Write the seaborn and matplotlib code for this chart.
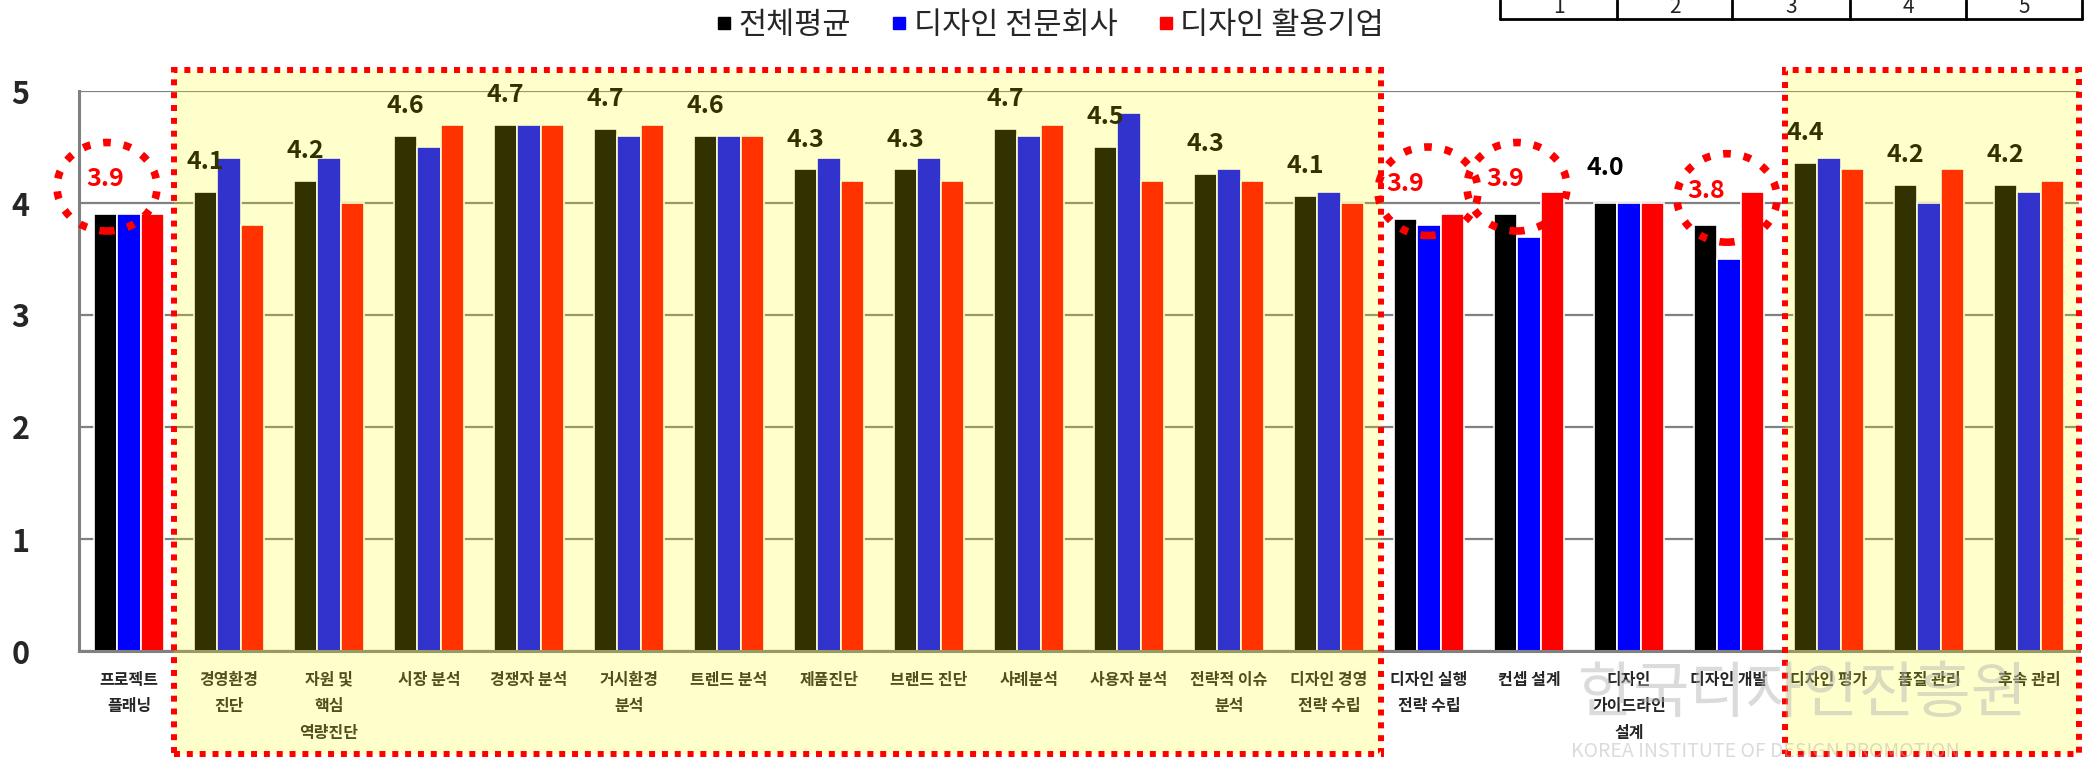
import numpy as np
import pandas as pd
import matplotlib
matplotlib.use("Agg")
import matplotlib.pyplot as plt
import matplotlib.transforms as mtransforms
from matplotlib.patches import Rectangle, Ellipse
from matplotlib.lines import Line2D
import seaborn as sns

# ── data ─────────────────────────────────────────────────────────────────────
categories = ["프로젝트\n플래닝", "경영환경\n진단", "자원 및\n핵심\n역량진단", "시장 분석",
              "경쟁자 분석", "거시환경\n분석", "트렌드 분석", "제품진단", "브랜드 진단",
              "사례분석", "사용자 분석", "전략적 이슈\n분석", "디자인 경영\n전략 수립",
              "디자인 실행\n전략 수립", "컨셉 설계", "디자인\n가이드라인\n설계",
              "디자인 개발", "디자인 평가", "품질 관리", "후속 관리"]
series = ["전체평균", "디자인 전문회사", "디자인 활용기업"]

avg_all      = [3.9, 4.1, 4.2, 4.6, 4.7, 4.66, 4.6, 4.3, 4.3, 4.66,
                4.5, 4.26, 4.06, 3.86, 3.9, 4.0, 3.8, 4.36, 4.16, 4.16]
design_firms = [3.9, 4.4, 4.4, 4.5, 4.7, 4.6, 4.6, 4.4, 4.4, 4.6,
                4.8, 4.3, 4.1, 3.8, 3.7, 4.0, 3.5, 4.4, 4.0, 4.1]
client_firms = [3.9, 3.8, 4.0, 4.7, 4.7, 4.7, 4.6, 4.2, 4.2, 4.7,
                4.2, 4.2, 4.0, 3.9, 4.1, 4.0, 4.1, 4.3, 4.3, 4.2]

boxed_ranges = [(1, 12), (17, 19)]     # yellow highlighted stages
circled = [0, 13, 14, 16]              # red dotted circles
circle_shift = [-0.22, -0.01, -0.12, -0.02]   # hand-drawn circles sit a bit off
table_cells = ["1", "2", "3", "4", "5"]

colors = ["#000000", "#0000ff", "#ff0000"]

sns.set_style("white")
plt.rcParams["font.family"] = ["Noto Sans CJK KR", "DejaVu Sans"]

df = pd.DataFrame({"category": categories,
                   series[0]: avg_all,
                   series[1]: design_firms,
                   series[2]: client_firms})
df = df.melt(id_vars="category", var_name="series", value_name="score")

W, H = 2087, 758
fig = plt.figure(figsize=(W / 100, H / 100), dpi=100)
ax = fig.add_axes([79 / W, 1 - 651 / H, 2000 / W, 560 / H])

sns.barplot(data=df, x="category", y="score", hue="series", order=categories,
            hue_order=series, palette=colors, saturation=1, width=0.7,
            edgecolor="white", linewidth=1.2, legend=False, ax=ax)

ax.set_xlim(-0.5, len(categories) - 0.5)
ax.set_ylim(0, 5)
ax.set_yticks(range(6))
ax.set_xlabel("")
ax.set_ylabel("")
ax.yaxis.grid(True, color="#808080", linewidth=1.6)
ax.set_axisbelow(True)
for s in ["top", "right"]:
    ax.spines[s].set_visible(False)
for s in ["left", "bottom"]:
    ax.spines[s].set_color("#808080")
    ax.spines[s].set_linewidth(2.2)

ax.tick_params(axis="y", direction="out", length=8.5, width=1.6, color="#808080",
               pad=27, labelsize=22)
for t in ax.get_yticklabels():
    t.set_fontweight("bold")
ax.tick_params(axis="x", which="major", length=0, pad=15, labelsize=11.5)
ax.set_xticks(np.arange(-0.5, len(categories)), minor=True)
ax.tick_params(axis="x", which="minor", direction="out", length=5, width=1.6,
               color="#808080")
for t in ax.get_xticklabels():
    t.set_fontweight("bold")
    t.set_linespacing(1.8)

# data labels on the overall-average bars
off = -0.7 / 3
for i, v in enumerate(avg_all):
    boxed = any(a <= i <= b for a, b in boxed_ranges)
    col = "#ff0000" if i in circled else "#000000"
    ax.annotate(f"{v:.1f}", (i + off, v), xytext=(0, 21.5 if boxed else 25),
                textcoords="offset points", ha="center", va="center",
                fontsize=18, fontweight="bold", color=col, zorder=5)

# red dotted circles round the weak stages
for i, dx in zip(circled, circle_shift):
    ax.add_patch(Ellipse((i + dx, avg_all[i] + 0.245), 1.0, 0.79, fill=False,
                         edgecolor="#ff0000", linewidth=5.5,
                         linestyle=(0, (1, 1.7)), clip_on=False, zorder=12))

# yellow highlight boxes (x in data, y in figure coords)
trans = mtransforms.blended_transform_factory(ax.transData, fig.transFigure)
y0, y1 = 1 - 754 / H, 1 - 70 / H
for (a, b), (dl, dr) in zip(boxed_ranges, [(0.55, 0.52), (0.44, 0.5)]):
    x0, x1 = a - dl, b + dr
    ax.add_patch(Rectangle((x0, y0), x1 - x0, y1 - y0, transform=trans,
                           facecolor=(1, 1, 0), alpha=0.2, edgecolor="none",
                           clip_on=False, zorder=10))
    ax.add_patch(Rectangle((x0, y0), x1 - x0, y1 - y0, transform=trans,
                           facecolor="none", edgecolor="#ff0000", linewidth=4.3,
                           linestyle=(0, (1, 1.15)), clip_on=False, zorder=11))

# legend
handles = [Line2D([], [], marker="s", linestyle="none", color=c, markersize=9)
           for c in colors]
fig.legend(handles, series, loc="center", bbox_to_anchor=(0.503, 0.967), ncol=3,
           frameon=False, fontsize=22, handlelength=0.55, handletextpad=0.2,
           columnspacing=1.3)

# cut-off scale table at the top right
xs = [1500, 1617, 1732, 1850, 1966, 2082]
yb = 1 - 19 / H
fig.add_artist(Line2D([xs[0] / W, xs[-1] / W], [yb, yb], color="black", linewidth=2))
for x in xs:
    fig.add_artist(Line2D([x / W, x / W], [yb, 1.0], color="black", linewidth=2))
for k, lab in enumerate(table_cells):
    fig.text((xs[k] + xs[k + 1]) / 2 / W, 1 - 13 / H, lab, ha="center",
             va="baseline", fontsize=15, color="#222222")

# watermark
fig.text(1803 / W, 1 - 695 / H, "한국디자인진흥원", ha="center", va="center",
         fontsize=44, color="#b0b0b0", alpha=0.45)
fig.text(1765 / W, 1 - 741 / H, "KOREA INSTITUTE OF DESIGN PROMOTION", ha="center",
         va="top", fontsize=14, color="#b0b0b0", alpha=0.45)

fig.savefig("out.png", dpi=100)
